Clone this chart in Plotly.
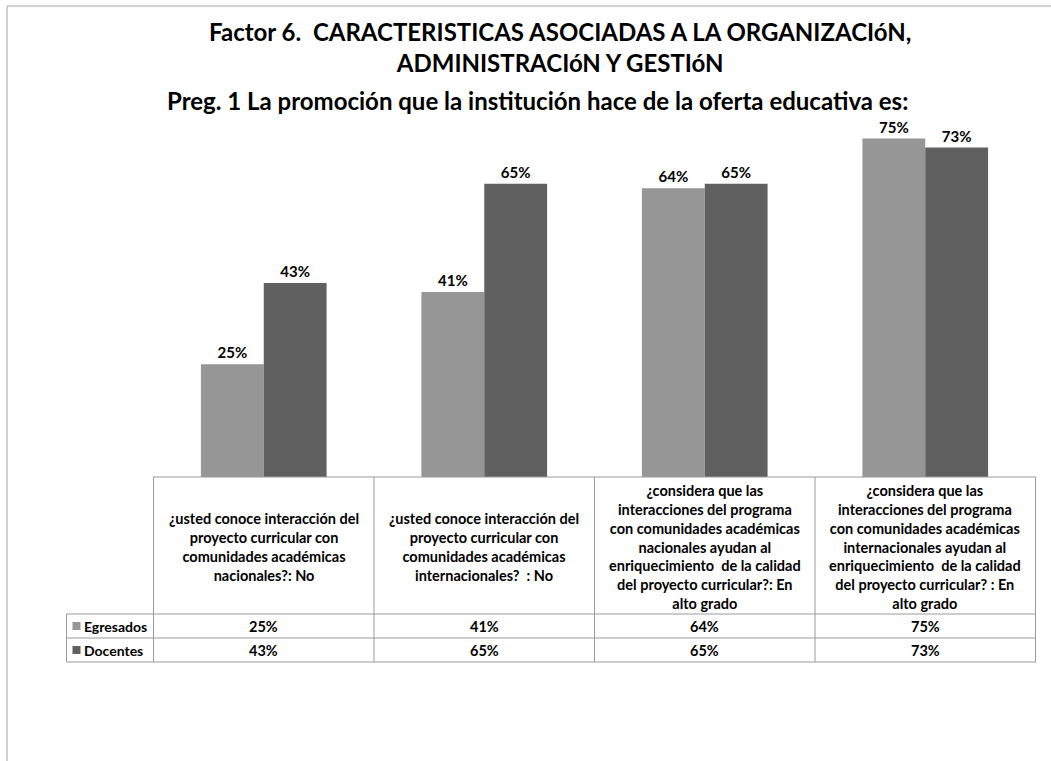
import plotly.graph_objects as go

# ---------------- data ----------------
categories = [
    "¿usted conoce interacción del<br>proyecto curricular con<br>comunidades académicas<br>nacionales?: No",
    "¿usted conoce interacción del<br>proyecto curricular con<br>comunidades académicas<br>internacionales?  : No",
    "¿considera que las<br>interacciones del programa<br>con comunidades académicas<br>nacionales ayudan al<br>enriquecimiento  de la calidad<br>del proyecto curricular?: En<br>alto grado",
    "¿considera que las<br>interacciones del programa<br>con comunidades académicas<br>internacionales ayudan al<br>enriquecimiento  de la calidad<br>del proyecto curricular? : En<br>alto grado",
]
series_names = ["Egresados", "Docentes"]
egresados = [25, 41, 64, 75]
docentes = [43, 65, 65, 73]
series_values = [egresados, docentes]
series_colors = ["#969696", "#606060"]

title_lines_1 = "Factor 6.  CARACTERISTICAS ASOCIADAS A LA ORGANIZACIóN,<br>ADMINISTRACIóN Y GESTIóN"
title_line_2 = "Preg. 1 La promoción que la institución hace de la oferta educativa es:"

# ---------------- layout geometry (pixels) ----------------
W, H = 1051, 761
L, R, T, B = 153, 1036, 116, 477
FONT = "Lato"


def px(x):
    return (x - L) / (R - L)


def py(y):
    return (B - y) / (B - T)


fig = go.Figure()
for name, vals, col in zip(series_names, series_values, series_colors):
    fig.add_trace(go.Bar(
        x=categories, y=vals, name=name,
        marker=dict(color=col, line=dict(width=0)),
        text=[f"{v}%" for v in vals],
        textposition="outside",
        textfont=dict(family=FONT, size=15, color="black", weight="bold"),
        cliponaxis=False,
        showlegend=False,
        hoverinfo="skip",
    ))

shapes = []
line_col = "#9a9a9a"
# outer chart border (left and top)
shapes.append(dict(type="line", xref="paper", yref="paper", x0=px(7), x1=px(7), y0=py(6), y1=py(761),
                   line=dict(color="#a6a6a6", width=1)))
shapes.append(dict(type="line", xref="paper", yref="paper", x0=px(7), x1=px(1051), y0=py(6), y1=py(6),
                   line=dict(color="#a6a6a6", width=1)))
# data table verticals
row_tops = [614, 638, 662]
for i in range(len(categories) + 1):
    xv = i - 0.5
    shapes.append(dict(type="line", xref="x", yref="paper", x0=xv, x1=xv, y0=py(B), y1=py(662),
                       line=dict(color=line_col, width=1)))
# axis line / table top
shapes.append(dict(type="line", xref="paper", yref="paper", x0=0, x1=1, y0=0, y1=0,
                   line=dict(color=line_col, width=1)))
for yy in row_tops:
    shapes.append(dict(type="line", xref="paper", yref="paper", x0=px(66.5), x1=1, y0=py(yy), y1=py(yy),
                       line=dict(color=line_col, width=1)))
shapes.append(dict(type="line", xref="paper", yref="paper", x0=px(66.5), x1=px(66.5), y0=py(614), y1=py(662),
                   line=dict(color=line_col, width=1)))
# legend keys
row_centers = [626, 650]
for yc, col in zip(row_centers, series_colors):
    shapes.append(dict(type="rect", xref="paper", yref="paper", x0=px(72.5), x1=px(80.5),
                       y0=py(yc - 4), y1=py(yc + 4), fillcolor=col, line=dict(width=0)))

annotations = []
annotations.append(dict(xref="paper", yref="paper", x=px(560), y=py(47.5), xanchor="center", yanchor="middle",
                        text=f"<b>{title_lines_1}</b>", showarrow=False,
                        font=dict(family=FONT, size=24, color="black")))
annotations.append(dict(xref="paper", yref="paper", x=px(537), y=py(101), xanchor="center", yanchor="middle",
                        text=f"<b>{title_line_2}</b>", showarrow=False,
                        font=dict(family=FONT, size=24, color="black")))
for i, cat in enumerate(categories):
    annotations.append(dict(xref="x", yref="paper", x=i, y=py(547), xanchor="center", yanchor="middle",
                            text=f"<b>{cat}</b>", showarrow=False, align="center",
                            font=dict(family=FONT, size=14.5, color="black")))
for yc, name, vals in zip(row_centers, series_names, series_values):
    annotations.append(dict(xref="paper", yref="paper", x=px(82), y=py(yc), xanchor="left", yanchor="middle",
                            text=f"<b>{name}</b>", showarrow=False,
                            font=dict(family=FONT, size=14, color="black")))
    for i, v in enumerate(vals):
        annotations.append(dict(xref="x", yref="paper", x=i, y=py(yc), xanchor="center", yanchor="middle",
                                text=f"<b>{v}%</b>", showarrow=False,
                                font=dict(family=FONT, size=14.5, color="black")))

fig.update_layout(
    width=W, height=H,
    margin=dict(l=L, r=W - R, t=T, b=H - B, pad=0),
    paper_bgcolor="white", plot_bgcolor="white",
    barmode="group", bargap=0.43, bargroupgap=0,
    xaxis=dict(showticklabels=False, showgrid=False, zeroline=False, showline=False, ticks="", fixedrange=True),
    yaxis=dict(range=[0, 80], visible=False, showgrid=False, zeroline=False, fixedrange=True),
    shapes=shapes, annotations=annotations,
    font=dict(family=FONT),
    hovermode=False,
)

fig.write_html(
    "out.html",
    config={"displayModeBar": False, "staticPlot": False},
    post_script="document.body.style.margin='0';document.body.style.overflow='hidden';",
)
